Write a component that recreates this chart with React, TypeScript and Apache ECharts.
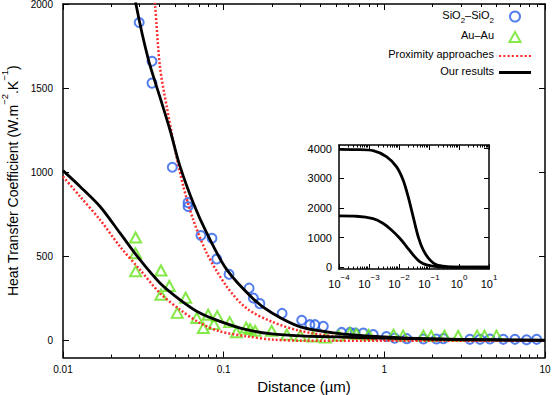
import React, { useEffect, useRef } from "react";
import * as echarts from "echarts";

// ---------- data ----------
const sio2Dist = [0.0298, 0.0358, 0.0358, 0.0479, 0.06, 0.06, 0.0722, 0.0846, 0.0905, 0.108, 0.144, 0.153, 0.168, 0.231, 0.306, 0.344, 0.37, 0.417, 0.542, 0.611, 0.658, 0.74, 0.853, 1.03, 1.16, 1.38, 1.75, 2.11, 2.33, 3.41, 3.94, 4.54, 5.5, 6.5, 7.68, 8.87];
const sio2Val = [1890, 1660, 1530, 1030, 820, 797, 625, 608, 485, 394, 312, 253, 220, 162, 121, 95, 95, 85, 49, 49, 45, 45, 36, 25, 15, 12, 10, 10, 12, 8, 8, 10, 8, 8, 5, 8];

const auDist = [0.0283, 0.0283, 0.0283, 0.0407, 0.0407, 0.0459, 0.0514, 0.058, 0.068, 0.0747, 0.08, 0.087, 0.0912, 0.109, 0.12, 0.138, 0.146, 0.157, 0.199, 0.247, 0.3, 0.36, 0.43, 0.52, 0.611, 0.67, 0.8, 1.14, 1.31, 1.75, 1.96, 2.37, 2.88, 3.78, 4.2, 4.99];
const auVal = [613, 519, 412, 417, 273, 325, 165, 255, 135, 75, 154, 98, 146, 110, 50, 78, 69, 58, 58, 36, 30, 25, 18, 30, 46, 40, 35, 36, 30, 30, 28, 30, 28, 30, 30, 30];

const oursSiO2Dist = [0.027, 0.0285, 0.034, 0.04, 0.0463, 0.0535, 0.0647, 0.0784, 0.104, 0.153, 0.2, 0.3, 0.53, 1.0, 2, 5, 10];
const oursSiO2Val = [2160, 1995, 1669, 1451, 1253, 1035, 818, 640, 425, 248, 164, 82, 42, 22, 10, 4, 2];

const oursAuDist = [0.01, 0.01276, 0.017, 0.0226, 0.0301, 0.0401, 0.0535, 0.0712, 0.0948, 0.139, 0.2, 0.3, 0.5, 1, 3, 10];
const oursAuVal = [1010, 916, 797, 640, 481, 343, 243, 164, 115, 65, 40, 28, 22, 15, 8, 3];

const proxSiO2Dist = [0.0355, 0.0374, 0.0401, 0.0442, 0.0498, 0.0561, 0.0647, 0.0784, 0.1044, 0.139, 0.2, 0.3, 0.5, 1, 3, 10];
const proxSiO2Val = [2200, 1995, 1629, 1391, 1134, 916, 718, 521, 322, 192, 112, 58, 25, 8, 2, 0];

const proxAuDist = [0.01, 0.01276, 0.017, 0.0226, 0.0301, 0.0401, 0.0535, 0.0712, 0.0948, 0.139, 0.2035, 0.3, 1, 10];
const proxAuVal = [975, 857, 718, 560, 422, 283, 184, 105, 55, 26, 6, 0, 0, 0];

const insetUpperDist = [0.0001, 0.00038, 0.00137, 0.0038, 0.0082, 0.0137, 0.0202, 0.0296, 0.0436, 0.064, 0.107, 0.179, 0.385, 1, 10];
const insetUpperVal = [3978, 3970, 3933, 3730, 3393, 2944, 2382, 1708, 1034, 584, 247, 79, 22, 5, 0];

const insetLowerDist = [0.0001, 0.00038, 0.00137, 0.0029, 0.0056, 0.0106, 0.0178, 0.0296, 0.049, 0.083, 0.179, 0.5, 10];
const insetLowerVal = [1730, 1720, 1640, 1483, 1258, 978, 697, 416, 191, 79, 22, 0, 0];

// axis ranges and tick values
const MAIN_X = [0.01, 10];
const MAIN_Y = [-100, 2000];
const INSET_X = [0.0001, 10];
const INSET_Y = [-60, 4125];
const mainYTicks = [0, 500, 1000, 1500, 2000];
const mainXMajor = [0.01, 0.1, 1, 10];
const mainXMinor = [0.02, 0.03, 0.04, 0.05, 0.06, 0.07, 0.08, 0.09, 0.2, 0.3, 0.4, 0.5, 0.6, 0.7, 0.8, 0.9, 2, 3, 4, 5, 6, 7, 8, 9];
const insetYTicks = [0, 1000, 2000, 3000, 4000];
const insetXMajor = [0.0001, 0.001, 0.01, 0.1, 1, 10];
const insetXMinor = [
  0.0002, 0.0003, 0.0004, 0.0005, 0.0006, 0.0007, 0.0008, 0.0009,
  0.002, 0.003, 0.004, 0.005, 0.006, 0.007, 0.008, 0.009,
  0.02, 0.03, 0.04, 0.05, 0.06, 0.07, 0.08, 0.09,
  0.2, 0.3, 0.4, 0.5, 0.6, 0.7, 0.8, 0.9,
  2, 3, 4, 5, 6, 7, 8, 9,
];

const SIO2 = "SiO2–SiO2";
const AU = "Au–Au";
const PROX = "Proximity approaches";
const OURS = "Our results";

const zip = (a: number[], b: number[]) => a.map((v, i) => [v, b[i]]);

const FONT = "'Liberation Sans', Arial, Helvetica, sans-serif";
const BLUE = "#2b5fe8";
const GREEN = "#66e41c";
const RED = "#ff2e2e";

const ICON_LINE = "path://M0,0h32v3h-32z";
const ICON_DOTS = "path://M0,0h2v2h-2zM4,0h2v2h-2zM8,0h2v2h-2zM12,0h2v2h-2zM16,0h2v2h-2zM20,0h2v2h-2zM24,0h2v2h-2zM28,0h2v2h-2z";
const ICON_TRI = "path://M5,0L10,9L0,9Z";

function xAxes(grid: number, xr: number[], major: number[], minor: number[], majLen: number, minLen: number, label: any, extra: any) {
  const mk = (position: string, len: number, values: number[], lineShow: boolean, lab: any, ex: any) => ({
    type: "log", logBase: 10, gridIndex: grid, min: xr[0], max: xr[1], position,
    splitLine: { show: false },
    axisLine: { show: lineShow, onZero: false, lineStyle: { color: "#000", width: 1.5 } },
    axisTick: { show: true, inside: true, length: len, customValues: values, lineStyle: { color: "#000", width: 1 } },
    axisLabel: lab, ...ex,
  });
  return [
    mk("bottom", majLen, major, true, label, extra),
    mk("bottom", minLen, minor, false, { show: false }, {}),
    mk("top", majLen, major, true, { show: false }, {}),
    mk("top", minLen, minor, false, { show: false }, {}),
  ];
}

function yAxes(grid: number, yr: number[], ticks: number[], len: number, label: any, extra: any) {
  const mk = (position: string, lab: any, ex: any) => ({
    type: "value", gridIndex: grid, min: yr[0], max: yr[1], position,
    splitLine: { show: false },
    axisLine: { show: true, onZero: false, lineStyle: { color: "#000", width: 1.5 } },
    axisTick: { show: true, inside: true, length: len, customValues: ticks, lineStyle: { color: "#000", width: 1 } },
    axisLabel: lab, ...ex,
  });
  return [mk("left", label, extra), mk("right", { show: false }, {})];
}

export default function App() {
  const ref = useRef<HTMLDivElement>(null);
  useEffect(() => {
    if (!ref.current) return;
    const chart = echarts.init(ref.current, null, { renderer: "svg" });
    const supExp = (v: number) => {
      const e = Math.round(Math.log10(v));
      return `{b|10}{s|${e < 0 ? "−" + Math.abs(e) : e}}`;
    };
    const bounds = { left: -200, top: -200, right: -200, bottom: -200 };
    const option: any = {
      animation: false,
      textStyle: { fontFamily: FONT },
      grid: [
        { left: 63, right: 9, top: 4, bottom: 37.5, outerBounds: bounds },
        { left: 339, top: 145, width: 150, height: 124, outerBounds: bounds },
      ],
      xAxis: [
        ...xAxes(0, MAIN_X, mainXMajor, mainXMinor, 6, 3,
          { show: true, customValues: mainXMajor, fontSize: 10, color: "#000", margin: 7, fontFamily: FONT, formatter: (v: number) => String(v) },
          { name: "Distance (µm)", nameLocation: "middle", nameGap: 19, nameTextStyle: { fontSize: 15, color: "#000", fontFamily: FONT } }),
        ...xAxes(1, INSET_X, insetXMajor, insetXMinor, 5, 2.5,
          {
            show: true, customValues: insetXMajor, margin: 4, color: "#000", formatter: supExp,
            rich: {
              b: { fontSize: 11, lineHeight: 16, verticalAlign: "bottom", color: "#000", fontFamily: FONT },
              s: { fontSize: 8, lineHeight: 9, verticalAlign: "top", color: "#000", fontFamily: FONT },
            },
          }, {}),
      ],
      yAxis: [
        ...yAxes(0, MAIN_Y, mainYTicks, 6,
          { show: true, customValues: mainYTicks, fontSize: 10, color: "#000", margin: 10, fontFamily: FONT, formatter: (v: number) => String(v) },
          {
            name: `{a|Heat Transfer Coefficient (W.m}{s|−2}{a|.K}{s|−1}{a|)}`,
            nameLocation: "middle", nameGap: 42, nameRotate: 90,
            nameTextStyle: {
              color: "#000",
              rich: {
                a: { fontSize: 14, lineHeight: 20, verticalAlign: "bottom", color: "#000", fontFamily: FONT },
                s: { fontSize: 9.5, lineHeight: 11, verticalAlign: "top", color: "#000", fontFamily: FONT },
              },
            },
          }),
        ...yAxes(1, INSET_Y, insetYTicks, 5,
          { show: true, customValues: insetYTicks, fontSize: 11, color: "#000", margin: 7, fontFamily: FONT, formatter: (v: number) => String(v) }, {}),
      ],
      legend: {
        orient: "vertical",
        right: 18,
        top: 4,
        align: "right",
        itemWidth: 32,
        itemHeight: 10,
        itemGap: 5.5,
        symbolKeepAspect: true,
        data: [
          { name: SIO2, icon: "circle", itemStyle: { color: "rgba(255,255,255,0)", borderColor: BLUE, borderWidth: 2 } },
          { name: AU, icon: ICON_TRI, itemStyle: { color: "rgba(255,255,255,0)", borderColor: GREEN, borderWidth: 2 } },
          { name: PROX, icon: ICON_DOTS, itemStyle: { color: RED, borderWidth: 0 } },
          { name: OURS, icon: ICON_LINE, itemStyle: { color: "#000", borderWidth: 0 } },
        ],
        formatter: (n: string) => (n === SIO2 ? "{a|SiO}{s|2}{a|–SiO}{s|2}" : `{a|${n}}`),
        textStyle: {
          fontSize: 11, color: "#000", fontFamily: FONT,
          rich: {
            a: { fontSize: 11, lineHeight: 15, verticalAlign: "top", color: "#000", fontFamily: FONT },
            s: { fontSize: 8, lineHeight: 8, verticalAlign: "bottom", padding: [6, 0, 0, 0], color: "#000", fontFamily: FONT },
          },
        },
      },
      series: [
        {
          name: SIO2, type: "scatter", xAxisIndex: 0, yAxisIndex: 0, symbol: "circle", symbolSize: 9,
          itemStyle: { color: "rgba(255,255,255,0)", borderColor: BLUE, borderWidth: 2 },
          data: zip(sio2Dist, sio2Val), z: 2,
        },
        {
          name: AU, type: "scatter", xAxisIndex: 0, yAxisIndex: 0, symbol: "triangle", symbolSize: [11, 10],
          itemStyle: { color: "rgba(255,255,255,0)", borderColor: GREEN, borderWidth: 2 },
          data: zip(auDist, auVal), z: 2,
        },
        {
          name: PROX, type: "line", xAxisIndex: 0, yAxisIndex: 0, symbol: "none", smooth: 0.3,
          lineStyle: { color: RED, width: 2.5, type: [2, 2] }, itemStyle: { color: RED },
          data: zip(proxSiO2Dist, proxSiO2Val), z: 3,
        },
        {
          name: PROX, type: "line", xAxisIndex: 0, yAxisIndex: 0, symbol: "none", smooth: 0.3,
          lineStyle: { color: RED, width: 2.5, type: [2, 2] }, itemStyle: { color: RED },
          data: zip(proxAuDist, proxAuVal), z: 3,
        },
        {
          name: OURS, type: "line", xAxisIndex: 0, yAxisIndex: 0, symbol: "none", smooth: 0.3,
          lineStyle: { color: "#000", width: 2.8 }, itemStyle: { color: "#000" },
          data: zip(oursSiO2Dist, oursSiO2Val), z: 4,
        },
        {
          name: OURS, type: "line", xAxisIndex: 0, yAxisIndex: 0, symbol: "none", smooth: 0.3,
          lineStyle: { color: "#000", width: 2.8 }, itemStyle: { color: "#000" },
          data: zip(oursAuDist, oursAuVal), z: 4,
        },
        {
          name: "inset upper", type: "line", xAxisIndex: 4, yAxisIndex: 2, symbol: "none", smooth: 0.3,
          lineStyle: { color: "#000", width: 2.8 }, data: zip(insetUpperDist, insetUpperVal),
        },
        {
          name: "inset lower", type: "line", xAxisIndex: 4, yAxisIndex: 2, symbol: "none", smooth: 0.3,
          lineStyle: { color: "#000", width: 2.8 }, data: zip(insetLowerDist, insetLowerVal),
        },
      ],
    };
    chart.setOption(option);
    return () => chart.dispose();
  }, []);
  return <div ref={ref} style={{ position: "absolute", left: 0, top: 0, width: 554, height: 395 }} />;
}
